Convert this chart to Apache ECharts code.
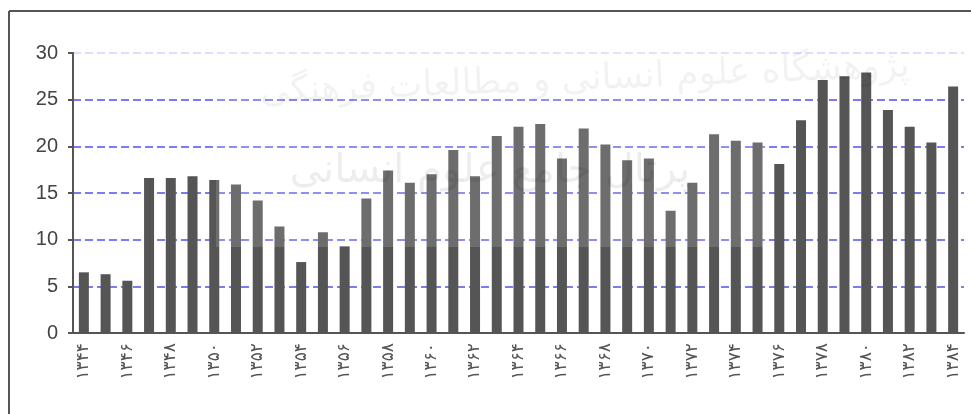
<!DOCTYPE html>
<html>
<head>
<meta charset="utf-8">
<script src="https://cdn.jsdelivr.net/npm/echarts@6/dist/echarts.min.js"></script>
<style>
  html, body { margin: 0; padding: 0; background: #fff; }
  #chart { width: 971px; height: 414px; }
</style>
</head>
<body>
<div id="chart"></div>
<script>
// years 1344..1384 in persian digits
var years = ['۱۳۴۴','۱۳۴۵','۱۳۴۶','۱۳۴۷','۱۳۴۸','۱۳۴۹','۱۳۵۰','۱۳۵۱','۱۳۵۲','۱۳۵۳',
             '۱۳۵۴','۱۳۵۵','۱۳۵۶','۱۳۵۷','۱۳۵۸','۱۳۵۹','۱۳۶۰','۱۳۶۱','۱۳۶۲','۱۳۶۳',
             '۱۳۶۴','۱۳۶۵','۱۳۶۶','۱۳۶۷','۱۳۶۸','۱۳۶۹','۱۳۷۰','۱۳۷۱','۱۳۷۲','۱۳۷۳',
             '۱۳۷۴','۱۳۷۵','۱۳۷۶','۱۳۷۷','۱۳۷۸','۱۳۷۹','۱۳۸۰','۱۳۸۱','۱۳۸۲','۱۳۸۳','۱۳۸۴'];

var values = [6.5, 6.3, 5.6, 16.6, 16.6, 16.8, 16.4, 15.9, 14.2, 11.4,
              7.6, 10.8, 9.3, 14.4, 17.4, 16.1, 17.0, 19.6, 16.8, 21.1,
              22.1, 22.4, 18.7, 21.9, 20.2, 18.5, 18.7, 13.1, 16.1, 21.3,
              20.6, 20.4, 18.1, 22.8, 27.1, 27.5, 27.9, 23.9, 22.1, 20.4, 26.4];

var yTicks = [0, 5, 10, 15, 20, 25, 30];

var chart = echarts.init(document.getElementById('chart'));

var gridColor = '#5252ee';

var option = {
    animation: false,
    backgroundColor: '#fff',
    grid: {
        left: 73,
        right: 7,
        top: 53,
        bottom: 81,
        containLabel: false
    },
    xAxis: {
        type: 'category',
        data: years,
        boundaryGap: true,
        axisLine: { lineStyle: { color: '#555', width: 2 } },
        axisTick: {
            interval: 0,
            length: 5,
            lineStyle: { color: '#555', width: 2 }
        },
        axisLabel: {
            interval: 1,
            rotate: 90,
            margin: 10,
            color: '#555',
            fontSize: 17,
            fontFamily: 'DejaVu Sans'
        }
    },
    yAxis: {
        type: 'value',
        min: yTicks[0],
        max: yTicks[yTicks.length - 1],
        interval: 5,
        axisLine: { show: true, lineStyle: { color: '#555', width: 2 } },
        axisTick: { show: true, length: 5, lineStyle: { color: '#555', width: 2 } },
        axisLabel: {
            margin: 15,
            color: '#444',
            fontSize: 20,
            fontFamily: 'Liberation Sans, Arial'
        },
        splitLine: {
            show: true,
            lineStyle: {
                color: [gridColor, gridColor, gridColor, gridColor, gridColor, gridColor, '#d4d4ff'],
                width: 1.5,
                type: [8, 4]
            }
        }
    },
    series: [{
        type: 'bar',
        data: values,
        barWidth: 10,
        itemStyle: { color: '#555555' }
    }],
    graphic: [
        // frame of the original figure
        { type: 'line', shape: { x1: 9, y1: 11, x2: 971, y2: 11 }, style: { stroke: '#555', lineWidth: 2 }, z: 100 },
        { type: 'line', shape: { x1: 9, y1: 11, x2: 9, y2: 414 }, style: { stroke: '#555', lineWidth: 2 }, z: 100 },
        // watermark
        { type: 'rect', shape: { x: 216, y: 38, width: 552, height: 209 }, style: { fill: 'rgba(255,255,255,0.14)' }, z: 100 },
        {
            type: 'text', x: 585, y: 80, rotation: 0.04, z: 101,
            style: {
                text: 'پژوهشگاه علوم انسانی و مطالعات فرهنگی',
                font: '36px "DejaVu Sans"',
                fill: 'rgba(0,0,0,0.05)',
                align: 'center', verticalAlign: 'middle'
            }
        },
        {
            type: 'text', x: 490, y: 172, z: 101,
            style: {
                text: 'پرتال جامع علوم انسانی',
                font: '40px "DejaVu Sans"',
                fill: 'rgba(0,0,0,0.07)',
                align: 'center', verticalAlign: 'middle'
            }
        }
    ]
};

chart.setOption(option);
</script>
</body>
</html>
